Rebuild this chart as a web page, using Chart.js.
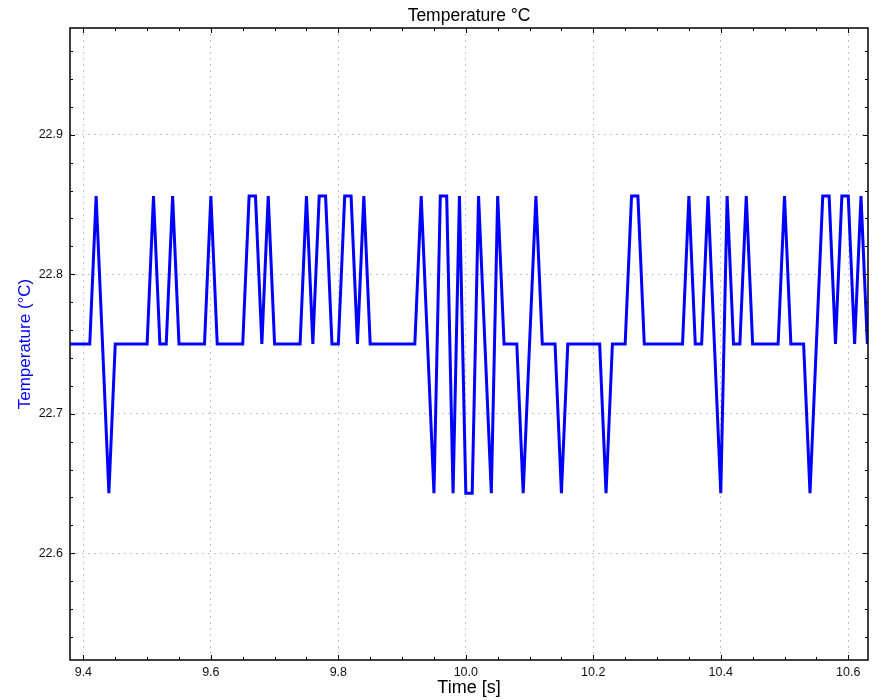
<!DOCTYPE html>
<html>
<head>
<meta charset="utf-8">
<title>Temperature °C</title>
<script src="https://cdn.jsdelivr.net/npm/chart.js@4.4.0/dist/chart.umd.min.js"></script>
<style>
   html, body { margin: 0; padding: 0; background: #fff; }
</style>
</head>
<body>
<canvas id="chart" width="876" height="700"></canvas>
<script>
/* Données */
const timeValues = [
   9.37, 9.38, 9.39, 9.40, 9.41, 9.42, 9.43, 9.44, 9.45, 9.46,
   9.47, 9.48, 9.49, 9.50, 9.51, 9.52, 9.53, 9.54, 9.55, 9.56,
   9.57, 9.58, 9.59, 9.60, 9.61, 9.62, 9.63, 9.64, 9.65, 9.66,
   9.67, 9.68, 9.69, 9.70, 9.71, 9.72, 9.73, 9.74, 9.75, 9.76,
   9.77, 9.78, 9.79, 9.80, 9.81, 9.82, 9.83, 9.84, 9.85, 9.86,
   9.87, 9.88, 9.89, 9.90, 9.91, 9.92, 9.93, 9.94, 9.95, 9.96,
   9.97, 9.98, 9.99, 10.00, 10.01, 10.02, 10.03, 10.04, 10.05, 10.06,
   10.07, 10.08, 10.09, 10.10, 10.11, 10.12, 10.13, 10.14, 10.15, 10.16,
   10.17, 10.18, 10.19, 10.20, 10.21, 10.22, 10.23, 10.24, 10.25, 10.26,
   10.27, 10.28, 10.29, 10.30, 10.31, 10.32, 10.33, 10.34, 10.35, 10.36,
   10.37, 10.38, 10.39, 10.40, 10.41, 10.42, 10.43, 10.44, 10.45, 10.46,
   10.47, 10.48, 10.49, 10.50, 10.51, 10.52, 10.53, 10.54, 10.55, 10.56,
   10.57, 10.58, 10.59, 10.60, 10.61, 10.62, 10.63
];
const temperatureValues = [
   22.750, 22.750, 22.750, 22.750, 22.750, 22.856, 22.750, 22.643, 22.750, 22.750,
   22.750, 22.750, 22.750, 22.750, 22.856, 22.750, 22.750, 22.856, 22.750, 22.750,
   22.750, 22.750, 22.750, 22.856, 22.750, 22.750, 22.750, 22.750, 22.750, 22.856,
   22.856, 22.750, 22.856, 22.750, 22.750, 22.750, 22.750, 22.750, 22.856, 22.750,
   22.856, 22.856, 22.750, 22.750, 22.856, 22.856, 22.750, 22.856, 22.750, 22.750,
   22.750, 22.750, 22.750, 22.750, 22.750, 22.750, 22.856, 22.750, 22.643, 22.856,
   22.856, 22.643, 22.856, 22.643, 22.643, 22.856, 22.750, 22.643, 22.856, 22.750,
   22.750, 22.750, 22.643, 22.750, 22.856, 22.750, 22.750, 22.750, 22.643, 22.750,
   22.750, 22.750, 22.750, 22.750, 22.750, 22.643, 22.750, 22.750, 22.750, 22.856,
   22.856, 22.750, 22.750, 22.750, 22.750, 22.750, 22.750, 22.750, 22.856, 22.750,
   22.750, 22.856, 22.750, 22.643, 22.856, 22.750, 22.750, 22.856, 22.750, 22.750,
   22.750, 22.750, 22.750, 22.856, 22.750, 22.750, 22.750, 22.643, 22.750, 22.856,
   22.856, 22.750, 22.856, 22.856, 22.750, 22.856, 22.750
];
const xTickValues = [9.4, 9.6, 9.8, 10.0, 10.2, 10.4, 10.6];
const yTickValues = [22.6, 22.7, 22.8, 22.9];
const chartTitle = 'Temperature °C';

const X_MIN = 9.379, X_MAX = 10.631;
const Y_MIN = 22.5235, Y_MAX = 22.9765;

const FONT = "'Liberation Sans', Arial, sans-serif";

/* Cadre noir, graduations vers l'intérieur (style matplotlib) et titre centré sur la zone de tracé */
const frameTicks = {
   id: 'frameTicks',
   afterDraw(chart) {
      const ctx = chart.ctx;
      const a = chart.chartArea;
      const xs = chart.scales.x, ys = chart.scales.y;
      ctx.save();
      ctx.strokeStyle = '#000';
      ctx.lineWidth = 1;
      const line = (x1, y1, x2, y2) => {
         ctx.beginPath(); ctx.moveTo(x1, y1); ctx.lineTo(x2, y2); ctx.stroke();
      };
      // graduations x : majeures + mineures tous les 0.05
      for (let i = 0; i <= 30; i++) {
         const v = 9.35 + i * 0.05;
         if (v < X_MIN || v > X_MAX) continue;
         const r = (v * 10) % 2;
         const major = Math.abs(r) < 1e-6 || Math.abs(r - 2) < 1e-6;
         const len = major ? 5 : 3;
         const p = Math.round(xs.getPixelForValue(v)) + 0.5;
         line(p, a.bottom, p, a.bottom - len);
         line(p, a.top, p, a.top + len);
      }
      // graduations y : majeures + mineures tous les 0.02
      for (let i = 0; i <= 30; i++) {
         const v = 22.50 + i * 0.02;
         if (v < Y_MIN || v > Y_MAX) continue;
         const major = Math.abs(Math.round(v * 10) - v * 10) < 1e-6;
         const len = major ? 5 : 3;
         const p = Math.round(ys.getPixelForValue(v)) + 0.5;
         line(a.left, p, a.left + len, p);
         line(a.right, p, a.right - len, p);
      }
      ctx.lineWidth = 1.5;
      ctx.strokeRect(a.left, a.top, a.right - a.left, a.bottom - a.top);

      // Titre
      ctx.fillStyle = '#000';
      ctx.font = `17.5px ${FONT}`;
      ctx.textAlign = 'center';
      ctx.textBaseline = 'middle';
      ctx.fillText(chartTitle, (a.left + a.right) / 2, 16);
      ctx.restore();
   }
};

const ctx = document.getElementById('chart');
const chart = new Chart(ctx, {
   type: 'line',
   data: {
      datasets: [{
         label: 'Temperature',
         data: timeValues.map((t, i) => ({x: t, y: temperatureValues[i]})),
         borderColor: '#0000ff',
         backgroundColor: '#0000ff',
         borderWidth: 3,
         pointRadius: 0,
         tension: 0,
         fill: false
      }]
   },
   options: {
      responsive: false,
      animation: false,
      devicePixelRatio: 1,
      layout: {
         padding: {left: 0, right: 8, top: 28, bottom: 0}
      },
      scales: {
         x: {
            type: 'linear',
            min: X_MIN,
            max: X_MAX,
            afterBuildTicks: (scale) => {
               scale.ticks = xTickValues.map(v => ({value: v}));
            },
            afterFit: (scale) => { scale.height = 40; },
            ticks: {
               autoSkip: false,
               maxRotation: 0,
               padding: 5,
               color: '#111',
               font: {family: FONT, size: 12.5},
               callback: (v) => Number(v).toFixed(1)
            },
            grid: {
               color: '#b4b4b4',
               lineWidth: 1,
               drawTicks: false
            },
            border: {display: false, dash: [1.5, 4.5]},
            title: {
               display: true,
               text: 'Time [s]',
               color: '#000',
               font: {family: FONT, size: 18},
               padding: {top: 1, bottom: 1}
            }
         },
         y: {
            type: 'linear',
            min: Y_MIN,
            max: Y_MAX,
            afterBuildTicks: (scale) => {
               scale.ticks = yTickValues.map(v => ({value: v}));
            },
            afterFit: (scale) => { scale.width = 70; },
            ticks: {
               padding: 7,
               color: '#111',
               font: {family: FONT, size: 12.5},
               callback: (v) => Number(v).toFixed(1)
            },
            grid: {
               color: '#b4b4b4',
               lineWidth: 1,
               drawTicks: false
            },
            border: {display: false, dash: [1.5, 4.5]},
            title: {
               display: true,
               text: 'Temperature (°C)',
               color: '#0000ff',
               font: {family: FONT, size: 17},
               padding: {top: 15, bottom: 15}
            }
         }
      },
      plugins: {
         legend: {display: false},
         tooltip: {enabled: false},
         title: {display: false}
      }
   },
   plugins: [frameTicks]
});
</script>
</body>
</html>
